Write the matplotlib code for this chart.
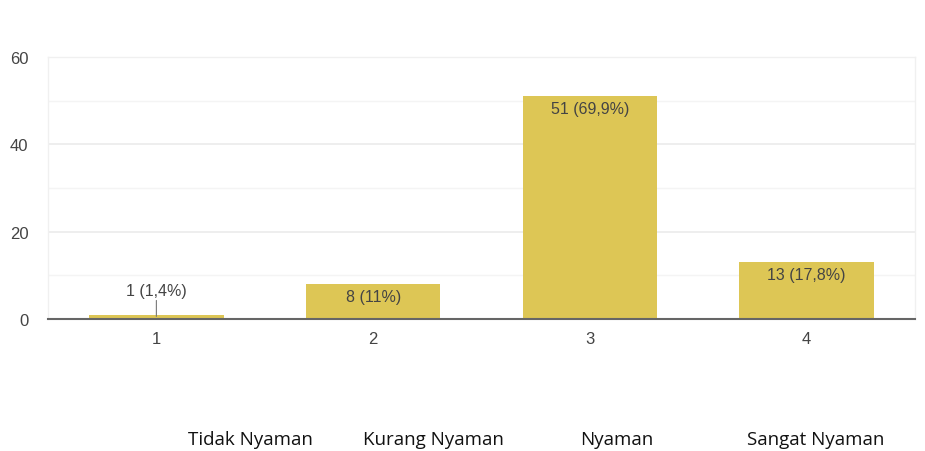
import matplotlib.pyplot as plt
from matplotlib.ticker import MultipleLocator

categories = ["1", "2", "3", "4"]
counts = [1, 8, 51, 13]
labels = ["1 (1,4%)", "8 (11%)", "51 (69,9%)", "13 (17,8%)"]
descriptions = ["Tidak Nyaman", "Kurang Nyaman", "Nyaman", "Sangat Nyaman"]
y_ticks = [0, 20, 40, 60]

bar_color = "#DDC655"
text_color = "#444444"
chart_font = "Liberation Sans"

fig = plt.figure(figsize=(9.25, 4.52), dpi=100)
ax = fig.add_axes([48 / 925, 1 - 320 / 452, 867 / 925, 262 / 452])

x = list(range(len(categories)))
ax.bar(x, counts, width=0.62, color=bar_color, zorder=3)

ax.set_xlim(-0.5, len(categories) - 0.5)
ax.set_ylim(0, 60)
ax.set_yticks(y_ticks)
ax.yaxis.set_minor_locator(MultipleLocator(10))
ax.grid(axis="y", which="major", color="#ebebeb", linewidth=1.2, zorder=0)
ax.grid(axis="y", which="minor", color="#f4f4f4", linewidth=1.0, zorder=0)

ax.set_xticks(x)
ax.set_xticklabels(categories)
ax.tick_params(axis="both", length=0, labelsize=12, labelcolor=text_color,
               labelfontfamily=chart_font)
ax.tick_params(axis="x", pad=9)
ax.tick_params(axis="y", pad=14)
ax.tick_params(axis="y", which="minor", length=0)

for side in ("top", "right", "left"):
    ax.spines[side].set_color("#f0f0f0")
    ax.spines[side].set_linewidth(1.0)
ax.spines["bottom"].set_color("#666666")
ax.spines["bottom"].set_linewidth(1.5)
ax.spines["bottom"].set_zorder(4)

for xi, c, lab in zip(x, counts, labels):
    if c < 3:
        ax.annotate(lab, xy=(xi, c * 0.6), xytext=(xi, c + 5.6),
                    ha="center", va="center", fontsize=11.5, color=text_color,
                    family=chart_font,
                    arrowprops=dict(arrowstyle="-", color="#777777", lw=0.8,
                                    shrinkA=0, shrinkB=0), zorder=5)
    else:
        ax.text(xi, c - 2.9, lab, ha="center", va="center", fontsize=11.5,
                color=text_color, family=chart_font, zorder=5)

desc_x = [250, 433, 617, 816]
for dx, d in zip(desc_x, descriptions):
    fig.text(dx / 925, 1 - 440 / 452, d, ha="center", va="center",
             fontsize=13.5, color="#111111", family="Open Sans")

fig.savefig("out.png", dpi=100)
